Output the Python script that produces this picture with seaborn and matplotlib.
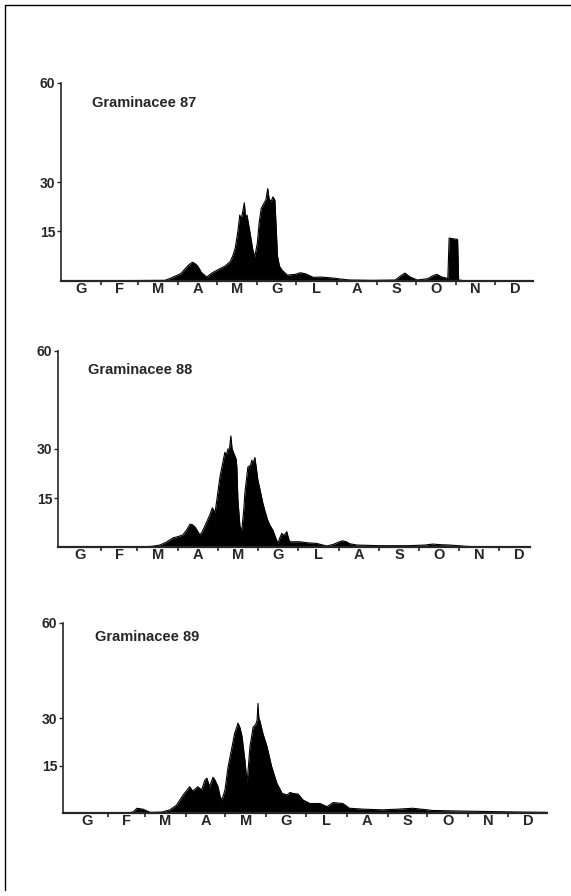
import numpy as np
import pandas as pd
import matplotlib.pyplot as plt
import seaborn as sns
from matplotlib.lines import Line2D

# Italian month initials
months = ["G", "F", "M", "A", "M", "G", "L", "A", "S", "O", "N", "D"]
month_days = [31, 28, 31, 30, 31, 30, 31, 31, 30, 31, 30, 31]
y_ticks = [15, 30, 60]

# day of year / daily grass pollen count
days_87 = [0, 80, 84, 88, 92, 95, 98, 101, 103, 105, 108, 112, 116, 121, 126, 130, 132,
           134, 136, 137.5, 138.5, 139.5, 141, 142, 143, 145, 147.5, 149, 151, 152.5, 154,
           156, 157.5, 159, 160, 161.5, 163, 164.5, 165.5, 166.5, 168, 170, 174, 180, 184,
           188, 194, 200, 209, 215, 222, 240, 257, 261, 264.5, 268.5, 274, 282, 286, 289,
           293, 297.5, 298.5, 305, 305.8, 310, 365]
vals_87 = [0, 0.2, 0.8, 1.5, 2.2, 3.5, 4.8, 5.7, 5.3, 4.6, 2.6, 1.2, 2.4, 3.5, 4.5, 5.8, 7.5,
           10, 15, 20, 18.5, 20.5, 23.7, 19, 20, 15.5, 9.5, 7.3, 11.5, 18, 22,
           23.5, 24.5, 28, 25, 24, 25.5, 24.5, 16, 7.5, 4.5, 3.3, 1.8, 2, 2.5,
           2.2, 1.1, 1.2, 0.9, 0.6, 0.3, 0.2, 0.3, 1.5, 2.4, 1.2, 0.3, 0.7, 1.6, 2,
           1.2, 0.8, 13, 12.6, 0.3, 0.1, 0]

days_88 = [0, 60, 70, 76, 81, 86, 90, 93.5, 96, 99, 101, 103, 106.5, 108, 110, 112, 114,
           116, 118, 119.4, 121.7, 123.5, 125.5, 126.5, 127.8, 129, 130, 131, 132, 134,
           134.6, 135.4, 137, 138.4, 140, 140.7, 142, 143, 145, 146, 147, 148.3, 149.5,
           150.6, 152, 154.4, 156, 158, 160, 162, 164, 165.8, 167, 168.8, 170.5, 172.6,
           174, 175, 182.5, 188, 195.4, 203, 208, 212, 215, 218, 220.5, 226, 243, 265,
           278, 283.6, 290, 296.6, 309.5, 320, 365]
vals_88 = [0, 0, 0.2, 0.6, 1.5, 2.8, 3.2, 3.7, 5, 7, 6.8, 6, 3.7, 4.5, 6.2, 8, 9.8,
           12, 10.5, 14.5, 21.4, 25, 29, 28, 30, 30, 34, 30, 29, 27,
           24.5, 14.4, 6.2, 5.2, 12, 16.5, 21, 24.5, 25, 26.6, 25.5, 27.4, 24,
           20.5, 18, 13.4, 11, 8.3, 6.5, 5.2, 3, 1.1, 2.5, 4.2, 3.5, 4.7,
           2.5, 1.6, 1.6, 1.3, 1.1, 0.3, 0.8, 1.5, 1.9, 1.6, 1.0, 0.6, 0.4, 0.4,
           0.6, 0.9, 0.7, 0.6, 0.2, 0, 0]

days_89 = [0, 45, 50, 53, 57.6, 63, 72, 78, 83, 88, 93, 95, 97, 99, 102, 104.5, 106, 108,
           110.6, 112, 114.4, 116, 117.4, 119.7, 122, 125, 127, 128.5, 129.5, 131, 132.6,
           135, 136.4, 137, 138.6, 141, 143, 144, 144.7, 145.3, 146, 148.5, 151.5, 155,
           159, 163, 166.7, 169, 171, 175, 178.8, 184, 191.7, 197, 201.5, 209, 214, 225,
           239, 250, 262, 277, 300, 315, 343, 365]
vals_89 = [0, 0, 0.3, 1.5, 1.2, 0.2, 0.3, 1, 2.5, 5.7, 8.3, 7, 7.5, 8.3, 7.3, 10.4, 11, 8.3,
           11.3, 10.5, 8.3, 5.2, 4.1, 7.3, 14.5, 20.8, 25.2, 27, 28.4, 27, 24.2,
           15.8, 9.4, 12.5, 21, 27.1, 28, 29.3, 34.6, 30, 29.3, 25, 21, 14.7,
           9.4, 6.2, 5.7, 6.5, 6.2, 6, 4.1, 3, 3, 2, 3.3, 3, 1.5, 1.2,
           1, 1.2, 1.5, 0.8, 0.6, 0.5, 0.3, 0.2]

titles = ["Graminacee 87", "Graminacee 88", "Graminacee 89"]
series = [(days_87, vals_87), (days_88, vals_88), (days_89, vals_89)]

sns.set_style("ticks")
plt.rcParams['font.family'] = ['Liberation Sans', 'DejaVu Sans']
plt.rcParams['font.weight'] = 'bold'

W, H = 571, 896
fig = plt.figure(figsize=(W / 100, H / 100), dpi=100)

# panel placement in pixels: left, right, baseline, top(60), xlim, title x, title y
panels = [
    (61, 533, 281, 83, (0, 363), 92, 103),
    (58, 530, 547, 351, (-1.5, 357.7), 88, 370),
    (63, 547, 813, 623, (-3, 363.6), 95, 637),
]

bounds = np.cumsum([0] + month_days)
centers = (bounds[:-1] + bounds[1:]) / 2

for (days, vals), title, (xl, xr, yb, yt, xlim, tx, ty) in zip(series, titles, panels):
    ax = fig.add_axes([xl / W, 1 - yb / H, (xr - xl) / W, (yb - yt) / H])
    df = pd.DataFrame({"day": days, "count": vals})
    sns.lineplot(data=df, x="day", y="count", ax=ax, color="black", lw=0.8)
    ax.fill_between(df["day"], 0, df["count"], color="black", lw=0)

    ax.set_xlim(*xlim)
    ax.set_ylim(0, 60)
    ax.set_yticks(y_ticks)
    ax.set_yticklabels([str(t) for t in y_ticks], fontsize=10, fontweight='bold')
    ax.tick_params(axis='y', length=3, width=1, pad=1)

    ax.set_xticks(bounds[1:-1])
    ax.set_xticklabels([])
    ax.tick_params(axis='x', which='major', length=3, width=1.2, direction='out')
    ax.set_xticks(centers, minor=True)
    ax.set_xticklabels(months, minor=True, fontsize=10.5, fontweight='bold')
    ax.tick_params(axis='x', which='minor', length=0, pad=0.5)

    ax.set_xlabel("")
    ax.set_ylabel("")
    for side in ['top', 'right']:
        ax.spines[side].set_visible(False)
    ax.spines['left'].set_linewidth(1.2)
    ax.spines['bottom'].set_linewidth(1.6)

    fig.text(tx / W, 1 - ty / H, title, fontsize=10.5, fontweight='bold', va='center', ha='left')

# page frame (left and top edge of the scanned page)
fig.add_artist(Line2D([5 / W, 5 / W], [1 - 5 / H, 1 - 890 / H], color='black', lw=1))
fig.add_artist(Line2D([5 / W, 1], [1 - 5 / H, 1 - 5 / H], color='black', lw=1))

fig.savefig("out.png", dpi=100)
